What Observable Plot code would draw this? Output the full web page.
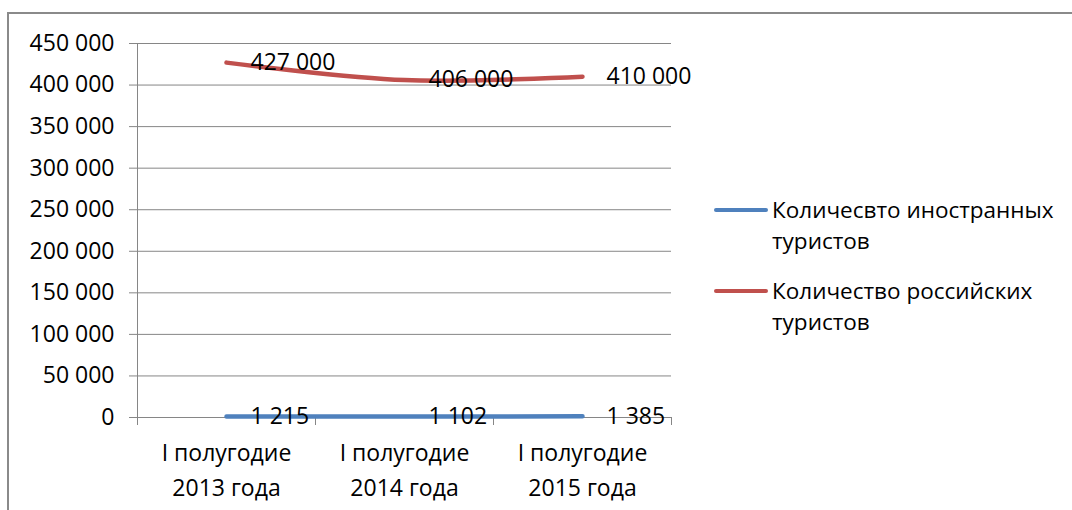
<!DOCTYPE html>
<html>
<head>
<meta charset="utf-8">
<script src="https://cdn.jsdelivr.net/npm/d3@7"></script>
<script src="https://cdn.jsdelivr.net/npm/@observablehq/plot@0.6"></script>
<style>
  html, body { margin: 0; padding: 0; background: #fff; }
  #wrap { position: relative; width: 1072px; height: 510px; overflow: hidden; font-family: 'Open Sans', 'Noto Sans', sans-serif; }
  #box { position: absolute; left: 7px; top: 12px; width: 1100px; height: 600px; border-top: 2px solid #8a8a8a; border-left: 2px solid #8a8a8a; box-sizing: border-box; }
  #chart { position: absolute; left: 0; top: 0; }
  #legend { position: absolute; left: 714px; top: 194px; font-size: 22.5px; color: #000; }
  .item { display: flex; align-items: flex-start; margin-bottom: 19px; }
  .sw { width: 54px; height: 4px; border-radius: 2px; margin-top: 14px; margin-right: 4px; flex: none; }
  .lab { width: 310px; line-height: 31px; }
</style>
</head>
<body>
<div id="wrap">
  <div id="box"></div>
  <div id="chart"></div>
  <div id="legend"></div>
</div>
<script>
// Half-year periods on the x axis
const categories = ["I полугодие\n2013 года", "I полугодие\n2014 года", "I полугодие\n2015 года"];
// Tourist counts per period
const foreignTourists = [1215, 1102, 1385];
const russianTourists = [427000, 406000, 410000];
const seriesNames = ["Количесвто иностранных туристов", "Количество российских туристов"];
const seriesColors = ["#4F81BD", "#C0504D"];
const yTicks = [0, 50000, 100000, 150000, 200000, 250000, 300000, 350000, 400000, 450000];

const rows = [];
[foreignTourists, russianTourists].forEach((values, s) => {
  values.forEach((v, i) => rows.push({cat: categories[i], series: seriesNames[s], value: v}));
});

const fmt = d => d3.format(",")(d).replace(/,/g, " ");
const grey = "#868686";

const chart = Plot.plot({
  width: 1072,
  height: 510,
  marginLeft: 137,
  marginRight: 401,
  marginTop: 43,
  marginBottom: 93,
  style: {fontFamily: "'Open Sans', 'Noto Sans', sans-serif", fontSize: "23px", color: "#000", background: "transparent", overflow: "visible"},
  x: {type: "point", domain: categories, padding: 0.5, label: null},
  y: {domain: [0, 450000], label: null},
  color: {domain: seriesNames, range: seriesColors},
  marks: [
    Plot.gridY(yTicks, {stroke: grey, strokeOpacity: 1}),
    Plot.axisY(yTicks, {tickSize: 8, tickPadding: 15, tickFormat: fmt, stroke: grey, fill: "#000", label: null}),
    Plot.frame({anchor: "left", stroke: grey}),
    Plot.axisX({tickSize: 8, dx: 89, tickFormat: () => "", stroke: grey, label: null}),
    Plot.axisX({tickSize: 8, dx: -89, tickFormat: () => "", stroke: grey, label: null}),
    Plot.axisX({tickSize: 0, tickPadding: 18, lineHeight: 1.55, fill: "#000", label: null}),
    Plot.line(rows, {x: "cat", y: "value", z: "series", stroke: "series", strokeWidth: 4.5, curve: "catmull-rom", strokeLinecap: "round"}),
    Plot.text(rows, {x: "cat", y: "value", text: d => fmt(d.value), textAnchor: "start", dx: 24, fill: "#000", fontSize: 23})
  ]
});
document.getElementById("chart").appendChild(chart);

// Legend beside the plot
const legend = d3.select("#legend");
seriesNames.forEach((name, i) => {
  const item = legend.append("div").attr("class", "item");
  item.append("div").attr("class", "sw").style("background", seriesColors[i]);
  item.append("div").attr("class", "lab").text(name);
});
</script>
</body>
</html>
